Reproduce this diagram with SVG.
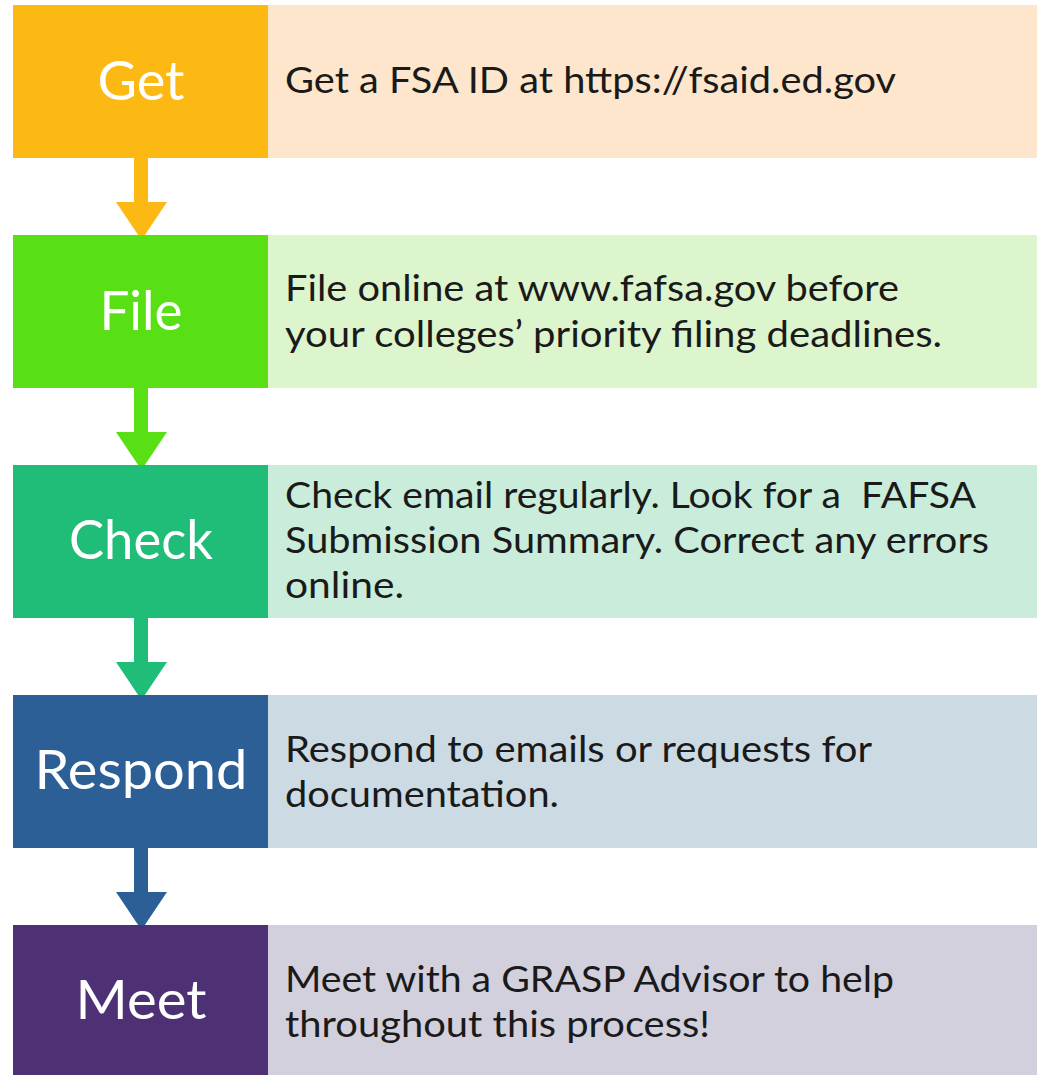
<svg xmlns="http://www.w3.org/2000/svg" width="1037" height="1075" viewBox="0 0 1037 1075">
<style>
.lbl{font-family:Lato,"Open Sans","Liberation Sans",sans-serif;font-size:54px;fill:#ffffff;text-anchor:middle}
.txt{font-family:Lato,"Open Sans","Liberation Sans",sans-serif;font-size:37px;fill:#1a1a1a;white-space:pre}
</style>
<rect width="1037" height="1075" fill="#ffffff"/>
<g id="connectors">
<g id="arrow1" fill="#FDB913"><rect x="134" y="158" width="14" height="45"/><polygon points="116,202 167,202 141.5,240"/></g>
<g id="arrow2" fill="#59E015"><rect x="134" y="388" width="14" height="45"/><polygon points="116,432 167,432 141.5,470"/></g>
<g id="arrow3" fill="#20BD78"><rect x="134" y="618" width="14" height="45"/><polygon points="116,662 167,662 141.5,700"/></g>
<g id="arrow4" fill="#2B5F95"><rect x="134" y="848" width="14" height="45"/><polygon points="116,892 167,892 141.5,930"/></g>
</g>
<g id="step-get">
<rect x="268" y="5" width="769" height="153" fill="#FDE6CC"/>
<rect x="13" y="5" width="255" height="153" fill="#FDB913"/>
<text class="lbl" x="141" y="100" textLength="87" lengthAdjust="spacingAndGlyphs">Get</text>
<text class="txt" x="285" y="93" textLength="611" lengthAdjust="spacingAndGlyphs">Get a FSA ID at https://fsaid.ed.gov</text>
</g>
<g id="step-file">
<rect x="268" y="235" width="769" height="153" fill="#DCF5CD"/>
<rect x="13" y="235" width="255" height="153" fill="#59E015"/>
<text class="lbl" x="141" y="330" textLength="83" lengthAdjust="spacingAndGlyphs">File</text>
<text class="txt" x="285" y="301" textLength="614" lengthAdjust="spacingAndGlyphs">File online at www.fafsa.gov before</text>
<text class="txt" x="285" y="347" textLength="657" lengthAdjust="spacingAndGlyphs">your colleges’ priority filing deadlines.</text>
</g>
<g id="step-check">
<rect x="268" y="465" width="769" height="153" fill="#C9ECDB"/>
<rect x="13" y="465" width="255" height="153" fill="#20BD78"/>
<text class="lbl" x="141" y="559" textLength="144" lengthAdjust="spacingAndGlyphs">Check</text>
<text class="txt" x="285" y="508" textLength="691" lengthAdjust="spacingAndGlyphs">Check email regularly. Look for a  FAFSA</text>
<text class="txt" x="285" y="553" textLength="704" lengthAdjust="spacingAndGlyphs">Submission Summary. Correct any errors</text>
<text class="txt" x="285" y="598" textLength="119" lengthAdjust="spacingAndGlyphs">online.</text>
</g>
<g id="step-respond">
<rect x="268" y="695" width="769" height="153" fill="#CBDAE3"/>
<rect x="13" y="695" width="255" height="153" fill="#2B5F95"/>
<text class="lbl" x="141" y="789" textLength="213" lengthAdjust="spacingAndGlyphs">Respond</text>
<text class="txt" x="285" y="762" textLength="587" lengthAdjust="spacingAndGlyphs">Respond to emails or requests for</text>
<text class="txt" x="285" y="807" textLength="274" lengthAdjust="spacingAndGlyphs">documentation.</text>
</g>
<g id="step-meet">
<rect x="268" y="925" width="769" height="153" fill="#D2D0DC"/>
<rect x="13" y="925" width="255" height="153" fill="#4E3174"/>
<text class="lbl" x="141" y="1019" textLength="131" lengthAdjust="spacingAndGlyphs">Meet</text>
<text class="txt" x="285" y="992" textLength="609" lengthAdjust="spacingAndGlyphs">Meet with a GRASP Advisor to help</text>
<text class="txt" x="285" y="1037" textLength="425" lengthAdjust="spacingAndGlyphs">throughout this process!</text>
</g>
</svg>
